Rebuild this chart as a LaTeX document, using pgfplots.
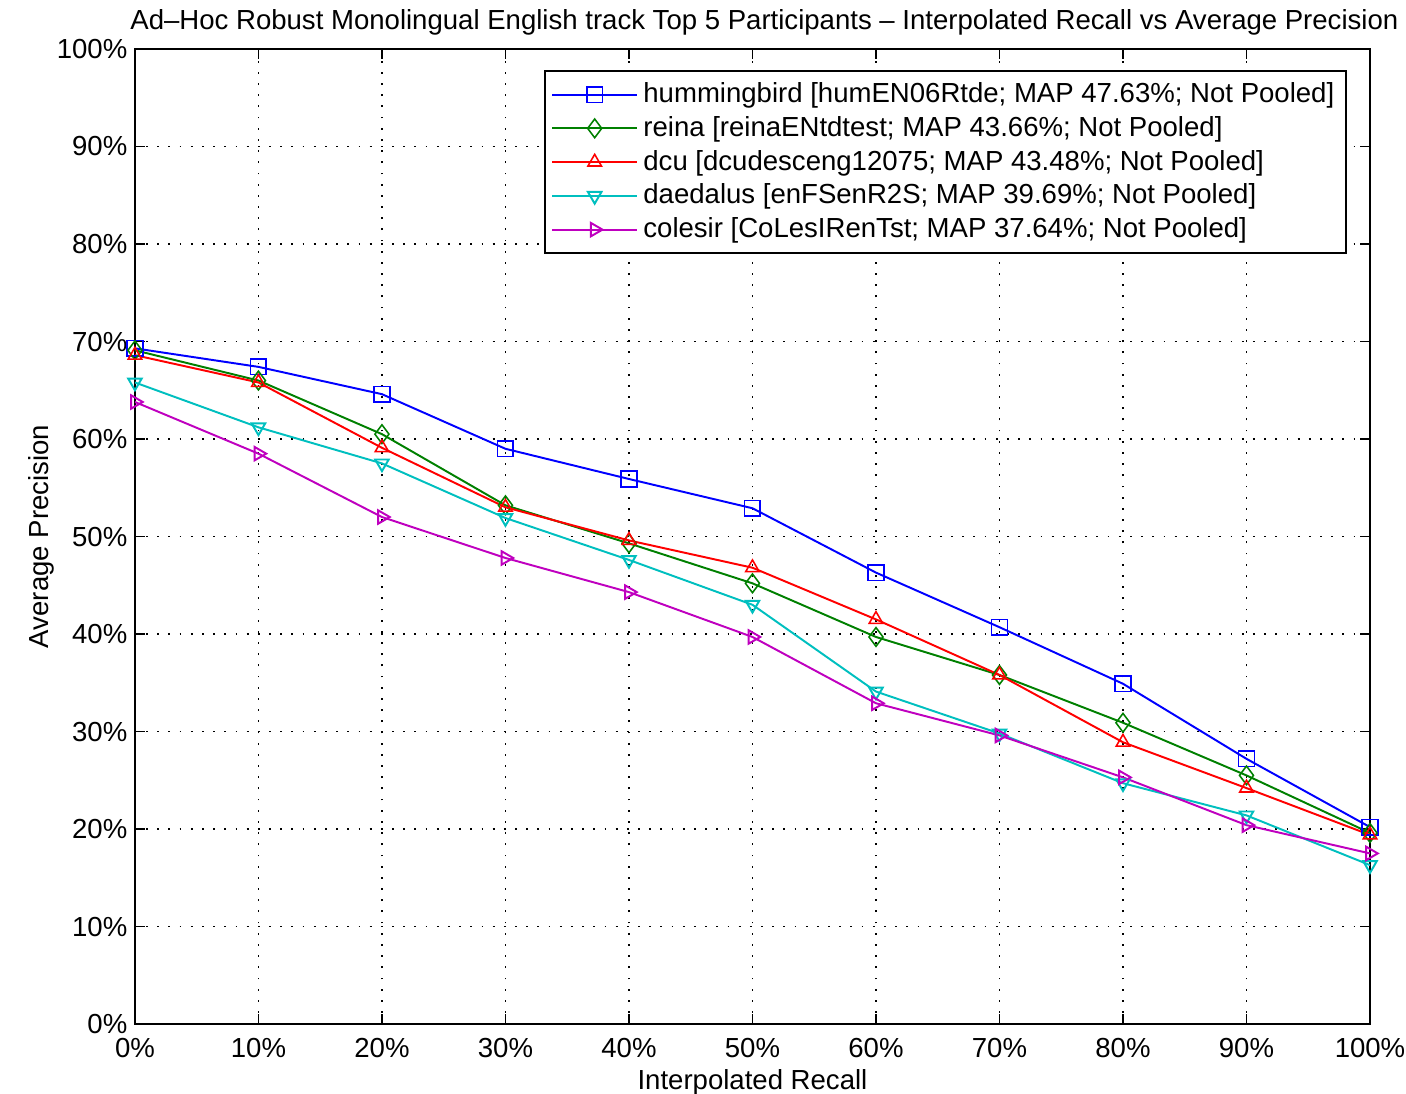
\documentclass[border=0pt]{standalone}
\usepackage{pgfplots}
\pgfplotsset{compat=1.18}
\usepackage{fontspec}
\setmainfont{Liberation Sans}
\definecolor{mblue}{rgb}{0,0,1}
\definecolor{mgreen}{rgb}{0,0.5,0}
\definecolor{mred}{rgb}{1,0,0}
\definecolor{mcyan}{rgb}{0,0.75,0.75}
\definecolor{mmag}{rgb}{0.75,0,0.75}
\begin{document}
\begin{tikzpicture}
\begin{axis}[
  name=ax,
  scale only axis,
  width=475pt, height=375pt,
  xmin=0, xmax=100, ymin=0, ymax=100,
  xtick={0,10,...,100}, ytick={0,10,...,100},
  xticklabel={\pgfmathprintnumber{\tick}\%},
  yticklabel={\pgfmathprintnumber{\tick}\%},
  /pgf/number format/assume math mode=true,
  tick align=inside,
  major tick length=4pt,
  tick style={black, line width=0.6pt},
  axis line style={black, line width=0.7pt},
  grid=major,
  major grid style={black, line width=0.7pt, dash pattern=on 0.7pt off 3.6pt},
  font=\fontsize{10.6}{12.7}\selectfont,
  tick label style={font=\fontsize{10.6}{12.7}\selectfont},
  xticklabel style={yshift=-1.8pt},
  yticklabel style={xshift=0.6pt},
  title={Ad–Hoc Robust Monolingual English track Top 5 Participants – Interpolated Recall vs Average Precision},
  title style={font=\fontsize{10.6}{12.7}\selectfont, yshift=-2.3pt, xshift=4.6pt, inner sep=1.5pt},
  xlabel={Interpolated Recall},
  ylabel={Average Precision},
  xlabel style={font=\fontsize{10.6}{12.7}\selectfont, yshift=2.3pt},
  ylabel style={font=\fontsize{10.6}{12.7}\selectfont, yshift=-6pt},
  legend style={at={(0.981,0.978)}, anchor=north east, draw=black, line width=0.6pt,
    font=\fontsize{10.6}{12.7}\selectfont, row sep=-0.2pt, inner sep=2.4pt,
    cells={anchor=west}},
  legend image code/.code={
    \draw[mark repeat=2,mark phase=2] plot coordinates {(0cm,0cm) (0.575cm,0cm) (1.15cm,0cm)};},
  every axis plot/.append style={line width=0.75pt, mark size=3pt, mark options={solid, line width=0.6pt}},
]
\addplot[mblue, mark=square] coordinates {
(0,69.3) (10,67.4) (20,64.6) (30,59.0) (40,55.9) (50,52.9) (60,46.3) (70,40.7) (80,34.9) (90,27.2) (100,20.2)};
\addlegendentry{hummingbird [humEN06Rtde; MAP 47.63\%; Not Pooled]}
\addplot[mgreen, mark=diamond, mark size=3.6pt] coordinates {
(0,69.1) (10,66.0) (20,60.5) (30,53.2) (40,49.3) (50,45.2) (60,39.7) (70,35.8) (80,30.9) (90,25.5) (100,19.6)};
\addlegendentry{reina [reinaENtdtest; MAP 43.66\%; Not Pooled]}
\addplot[mred, mark=triangle] coordinates {
(0,68.6) (10,65.8) (20,59.1) (30,53.0) (40,49.6) (50,46.8) (60,41.5) (70,35.8) (80,28.9) (90,24.2) (100,19.4)};
\addlegendentry{dcu [dcudesceng12075; MAP 43.48\%; Not Pooled]}
\addplot[mcyan, mark=triangle, mark options={rotate=180}] coordinates {
(0,65.8) (10,61.2) (20,57.5) (30,51.9) (40,47.6) (50,43.0) (60,34.1) (70,29.8) (80,24.7) (90,21.4) (100,16.3)};
\addlegendentry{daedalus [enFSenR2S; MAP 39.69\%; Not Pooled]}
\addplot[mmag, mark=triangle, mark options={rotate=-90}] coordinates {
(0,63.8) (10,58.5) (20,52.0) (30,47.8) (40,44.3) (50,39.7) (60,32.9) (70,29.6) (80,25.3) (90,20.4) (100,17.5)};
\addlegendentry{colesir [CoLesIRenTst; MAP 37.64\%; Not Pooled]}
\end{axis}
\pgfresetboundingbox
\path ([xshift=-51.9pt, yshift=-26.9pt]ax.south west) rectangle ([xshift=13.85pt, yshift=18.85pt]ax.north east);
\end{tikzpicture}
\end{document}
